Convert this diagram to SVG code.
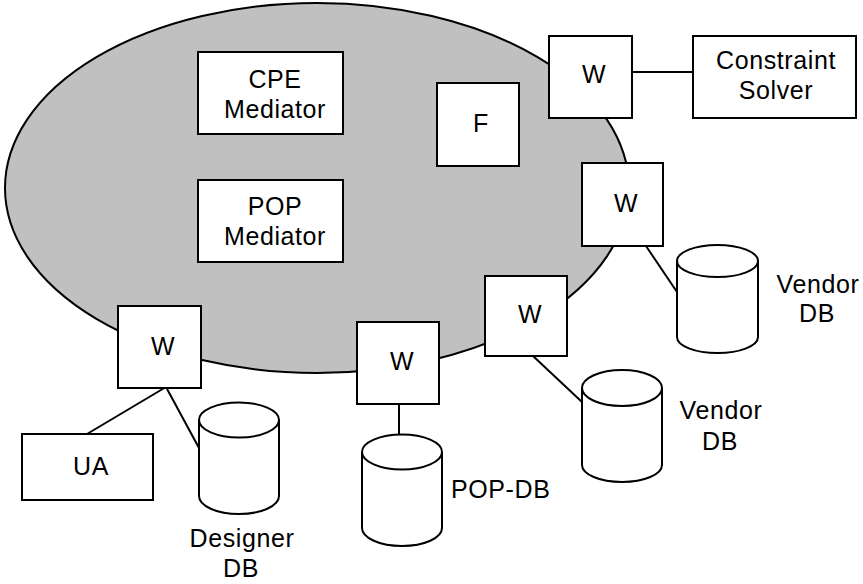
<svg xmlns="http://www.w3.org/2000/svg" width="863" height="584" viewBox="0 0 863 584">
<style>
.box{fill:#fff;stroke:#000;stroke-width:2}
.cyl{fill:#fff;stroke:#000;stroke-width:2}
.ln{fill:none;stroke:#000;stroke-width:2}
text{font-family:"Liberation Sans",Arial,sans-serif;font-size:25px;letter-spacing:0.6px;fill:#000;text-anchor:middle}
</style>
<rect width="863" height="584" fill="#fff"/>
<g id="domain">
<ellipse cx="317" cy="188" rx="312" ry="185" fill="#c0c0c0" stroke="#000" stroke-width="2"/>
</g>
<g id="connectors">
<line class="ln" x1="632" y1="72" x2="693" y2="72"/>
<line class="ln" x1="646" y1="246" x2="677" y2="292"/>
<line class="ln" x1="533" y1="356" x2="582" y2="402"/>
<line class="ln" x1="399" y1="404" x2="399" y2="438"/>
<line class="ln" x1="166" y1="387" x2="87" y2="434"/>
<line class="ln" x1="166" y1="387" x2="199" y2="448"/>
</g>
<g id="cpe-mediator">
<rect class="box" x="198" y="52" width="145" height="82"/>
<text x="275" y="88">CPE</text>
<text x="275" y="118">Mediator</text>
</g>
<g id="pop-mediator">
<rect class="box" x="198" y="180" width="145" height="82"/>
<text x="275" y="215">POP</text>
<text x="275" y="245">Mediator</text>
</g>
<g id="f">
<rect class="box" x="437" y="83" width="82" height="83"/>
<text x="481" y="132">F</text>
</g>
<g id="w-cs">
<rect class="box" x="549" y="36" width="83" height="82"/>
<text x="594" y="83">W</text>
</g>
<g id="constraint-solver">
<rect class="box" x="693" y="36" width="163" height="82"/>
<text x="776" y="69">Constraint</text>
<text x="776" y="99">Solver</text>
</g>
<g id="w-vendor1">
<rect class="box" x="582" y="163" width="81" height="83"/>
<text x="626" y="212">W</text>
</g>
<g id="vendor-db1">
<path class="cyl" d="M677,261 L677,337 A40.5,16 0 0 0 758,337 L758,261 A40.5,16 0 0 0 677,261 Z"/>
<path class="ln" d="M677,261 A40.5,16 0 0 0 758,261"/>
<text x="818" y="293">Vendor</text>
<text x="817" y="322">DB</text>
</g>
<g id="w-vendor2">
<rect class="box" x="485" y="276" width="82" height="80"/>
<text x="530" y="323">W</text>
</g>
<g id="vendor-db2">
<path class="cyl" d="M582,388 L582,465 A40,17 0 0 0 662,465 L662,388 A40,18 0 0 0 582,388 Z"/>
<path class="ln" d="M582,388 A40,18 0 0 0 662,388"/>
<text x="721" y="419">Vendor</text>
<text x="720" y="450">DB</text>
</g>
<g id="w-pop">
<rect class="box" x="357" y="322" width="82" height="82"/>
<text x="402" y="370">W</text>
</g>
<g id="pop-db">
<path class="cyl" d="M362,452 L362,528 A40,18 0 0 0 442,528 L442,452 A40,17.5 0 0 0 362,452 Z"/>
<path class="ln" d="M362,452 A40,17.5 0 0 0 442,452"/>
<text x="451" y="498" style="text-anchor:start">POP-DB</text>
</g>
<g id="w-ua">
<rect class="box" x="118" y="306" width="83" height="82"/>
<text x="163" y="355">W</text>
</g>
<g id="ua">
<rect class="box" x="22" y="434" width="131" height="66"/>
<text x="91" y="475">UA</text>
</g>
<g id="designer-db">
<path class="cyl" d="M199,420 L199,496 A40,18 0 0 0 279,496 L279,420 A40,17.5 0 0 0 199,420 Z"/>
<path class="ln" d="M199,420 A40,17.5 0 0 0 279,420"/>
<text x="242" y="547">Designer</text>
<text x="241" y="577">DB</text>
</g>
</svg>
